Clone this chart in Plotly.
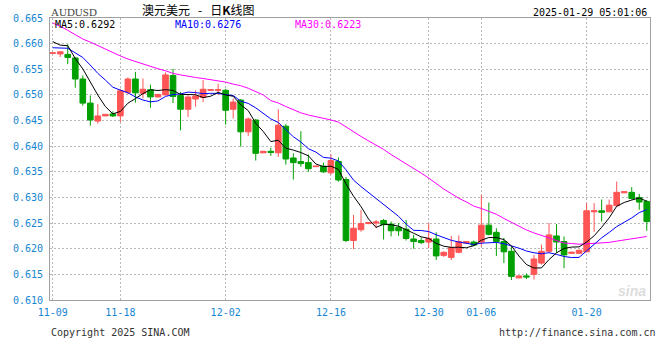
import math
import pandas as pd
import plotly.graph_objects as go

# ---------------- data ----------------
dates = [d.strftime("%m-%d") for d in pd.date_range("2024-11-09", "2025-01-28")
         if d.strftime("%m-%d") != "12-25"]

open_ = [0.6581, 0.6580, 0.6579, 0.6572, 0.6531, 0.6484, 0.6449, 0.6459, 0.6463, 0.6459,
         0.6505, 0.6531, 0.6503, 0.6510, 0.6496, 0.6500, 0.6538, 0.6499, 0.6472, 0.6492,
         0.6495, 0.6509, 0.6509, 0.6509, 0.6472, 0.6490, 0.6428, 0.6451, 0.6387, 0.6390,
         0.6387, 0.6439, 0.6377, 0.6370, 0.6368, 0.6360, 0.6361, 0.6348, 0.6370, 0.6335,
         0.6216, 0.6237, 0.6249, 0.6250, 0.6255, 0.6248, 0.6242, 0.6238, 0.6219, 0.6216,
         0.6213, 0.6219, 0.6187, 0.6183, 0.6193, 0.6211, 0.6213, 0.6213, 0.6246, 0.6232,
         0.6214, 0.6195, 0.6143, 0.6147, 0.6150, 0.6172, 0.6195, 0.6225, 0.6214, 0.6191,
         0.6191, 0.6194, 0.6272, 0.6274, 0.6272, 0.6284, 0.6309, 0.6310, 0.6300, 0.6292]
high = [0.6582, 0.6585, 0.6599, 0.6573, 0.6538, 0.6499, 0.6482, 0.6463, 0.6468, 0.6512,
        0.6534, 0.6545, 0.6532, 0.6520, 0.6502, 0.6544, 0.6551, 0.6506, 0.6500, 0.6509,
        0.6529, 0.6511, 0.6522, 0.6512, 0.6493, 0.6492, 0.6456, 0.6453, 0.6390, 0.6397,
        0.6472, 0.6443, 0.6386, 0.6429, 0.6384, 0.6361, 0.6368, 0.6384, 0.6378, 0.6340,
        0.6266, 0.6276, 0.6252, 0.6256, 0.6258, 0.6253, 0.6250, 0.6256, 0.6227, 0.6222,
        0.6250, 0.6232, 0.6195, 0.6225, 0.6226, 0.6215, 0.6216, 0.6305, 0.6290, 0.6240,
        0.6221, 0.6204, 0.6148, 0.6152, 0.6188, 0.6208, 0.6250, 0.6248, 0.6224, 0.6194,
        0.6198, 0.6289, 0.6289, 0.6296, 0.6296, 0.6331, 0.6311, 0.6320, 0.6307, 0.6295]
low = [0.6581, 0.6574, 0.6560, 0.6514, 0.6479, 0.6440, 0.6444, 0.6459, 0.6457, 0.6447,
       0.6501, 0.6485, 0.6493, 0.6475, 0.6496, 0.6499, 0.6484, 0.6431, 0.6457, 0.6477,
       0.6486, 0.6509, 0.6500, 0.6442, 0.6454, 0.6399, 0.6420, 0.6372, 0.6387, 0.6381,
       0.6379, 0.6364, 0.6335, 0.6360, 0.6350, 0.6360, 0.6348, 0.6344, 0.6331, 0.6213,
       0.6199, 0.6233, 0.6248, 0.6240, 0.6218, 0.6224, 0.6225, 0.6216, 0.6200, 0.6209,
       0.6201, 0.6178, 0.6184, 0.6178, 0.6191, 0.6210, 0.6205, 0.6204, 0.6226, 0.6186,
       0.6172, 0.6139, 0.6143, 0.6141, 0.6140, 0.6169, 0.6192, 0.6192, 0.6162, 0.6190,
       0.6190, 0.6193, 0.6233, 0.6253, 0.6271, 0.6282, 0.6309, 0.6296, 0.6276, 0.6235]
close = [0.6582, 0.6584, 0.6573, 0.6531, 0.6484, 0.6451, 0.6459, 0.6462, 0.6459, 0.6508,
         0.6531, 0.6504, 0.6511, 0.6496, 0.6501, 0.6539, 0.6497, 0.6472, 0.6496, 0.6498,
         0.6511, 0.6510, 0.6510, 0.6470, 0.6486, 0.6428, 0.6453, 0.6386, 0.6390, 0.6388,
         0.6441, 0.6375, 0.6368, 0.6366, 0.6356, 0.6361, 0.6350, 0.6372, 0.6334, 0.6216,
         0.6240, 0.6249, 0.6251, 0.6252, 0.6247, 0.6235, 0.6235, 0.6220, 0.6214, 0.6212,
         0.6220, 0.6186, 0.6193, 0.6202, 0.6214, 0.6214, 0.6207, 0.6246, 0.6228, 0.6214,
         0.6194, 0.6146, 0.6147, 0.6145, 0.6180, 0.6195, 0.6227, 0.6213, 0.6188, 0.6193,
         0.6197, 0.6274, 0.6274, 0.6271, 0.6285, 0.6310, 0.6311, 0.6298, 0.6291, 0.6253]

# moving-average values before enough in-window history exists
ma5_head = [0.6604, 0.6597, 0.6596, 0.6571]
ma10_head = [0.6592, 0.6592, 0.6591, 0.6582, 0.6573, 0.6558, 0.6542, 0.6529, 0.6515]
ma30_head = [0.6640, 0.6634, 0.6626, 0.6618, 0.6609, 0.6603, 0.6596, 0.6589, 0.6582, 0.6576,
             0.6570, 0.6565, 0.6560, 0.6555, 0.6551, 0.6547, 0.6542, 0.6539, 0.6536, 0.6534,
             0.6532, 0.6530, 0.6528, 0.6525, 0.6521, 0.6518, 0.6513, 0.6506, 0.6500]

tick_dates = ["11-09", "11-18", "12-02", "12-16", "12-30", "01-06", "01-20"]
y_ticks = [0.610, 0.615, 0.620, 0.625, 0.630, 0.635, 0.640, 0.645, 0.650, 0.655, 0.660, 0.665]

symbol = "AUDUSD"
title_parts = ["澳元美元", "-", "日", "K", "线图"]
stamp = "2025-01-29 05:01:06"

# ---------------- derived ----------------
x = list(range(len(dates)))
cs = pd.Series(close)


def moving(head, n):
    r = cs.rolling(n).mean().tolist()
    return list(head) + r[len(head):]


ma5 = moving(ma5_head, 5)
ma10 = moving(ma10_head, 10)
ma30 = moving(ma30_head, 30)


def trunc4(v):
    return "%.4f" % (math.floor(v * 10000 + 1e-9) / 10000)


RED = "#ff5555"
GREEN = "#00a000"
TICK_BLUE = "#1686d2"
MONO = "DejaVu Sans Mono"

fig = go.Figure()
fig.add_trace(go.Candlestick(
    x=x, open=open_, high=high, low=low, close=close,
    increasing=dict(line=dict(color=RED, width=1), fillcolor=RED),
    decreasing=dict(line=dict(color=GREEN, width=1), fillcolor=GREEN),
    whiskerwidth=0, showlegend=False, hoverinfo="skip",
))
for vals, col in [(ma30, "#ff00ff"), (ma10, "#0000ff"), (ma5, "#000000")]:
    fig.add_trace(go.Scatter(x=x, y=vals, mode="lines",
                             line=dict(color=col, width=1), showlegend=False,
                             hoverinfo="skip"))

L, R, T, B = 50, 10, 18, 60
W, H = 660, 360
PW, PH = W - L - R, H - T - B


def px(xp):
    return (xp - L) / PW


def py(yp):
    return (H - B - yp) / PH


ann = []


def text(s, xp, yp, color, size=10, family=MONO, xanchor="left", **kw):
    ann.append(dict(text=s, x=px(xp), y=py(yp), xref="paper", yref="paper",
                    xanchor=xanchor, yanchor="middle", showarrow=False,
                    font=dict(family=family, size=size, color=color), **kw))


NB = "\u00a0"
title = (title_parts[0] + NB * 3 + title_parts[1] + NB * 3 + title_parts[2]
         + "<b>" + title_parts[3] + "</b>" + title_parts[4])

text(symbol, 49, 12, "#444444", size=11, family="Liberation Serif")
text(title, 140, 10, "#000000", size=12, family="Noto Sans CJK SC")
text(stamp, 649, 12, "#000000", xanchor="right")
text("MA5:" + trunc4(ma5[-1]), 53, 24, "#000000")
text("MA10:" + trunc4(ma10[-1]), 173, 24, "#0000ff")
text("MA30:" + trunc4(ma30[-1]), 293, 24, "#ff00ff")
text("Copyright 2025 SINA.COM", 49, 332, "#333333")
text("http://finance.sina.com.cn", 658, 332, "#333333", xanchor="right")
text("<b><i>sina</i></b>", 648, 291, "#dddddd", size=14, family="Liberation Sans",
     xanchor="right")

grid = dict(showgrid=True, gridcolor="#b8b8b8", gridwidth=1, griddash="2px,2px",
            showline=True, mirror=True, linecolor="#a0a0a0", linewidth=1,
            zeroline=False, ticks="", fixedrange=True)

fig.update_layout(
    width=W, height=H, margin=dict(l=L, r=R, t=T, b=B, pad=0),
    paper_bgcolor="white", plot_bgcolor="white",
    annotations=ann, boxgap=0.25, boxgroupgap=0,
    xaxis=dict(range=[-0.36, 79.43],
               tickvals=[dates.index(d) for d in tick_dates], ticktext=tick_dates,
               tickfont=dict(family=MONO, size=10, color=TICK_BLUE),
               rangeslider=dict(visible=False), ticklabelstandoff=3, **grid),
    yaxis=dict(range=[0.610, 0.665], tickvals=y_ticks,
               ticktext=["%.3f" % v for v in y_ticks],
               tickfont=dict(family=MONO, size=10, color=TICK_BLUE),
               ticklabelstandoff=4, **grid),
)

fig.write_html("out.html")
